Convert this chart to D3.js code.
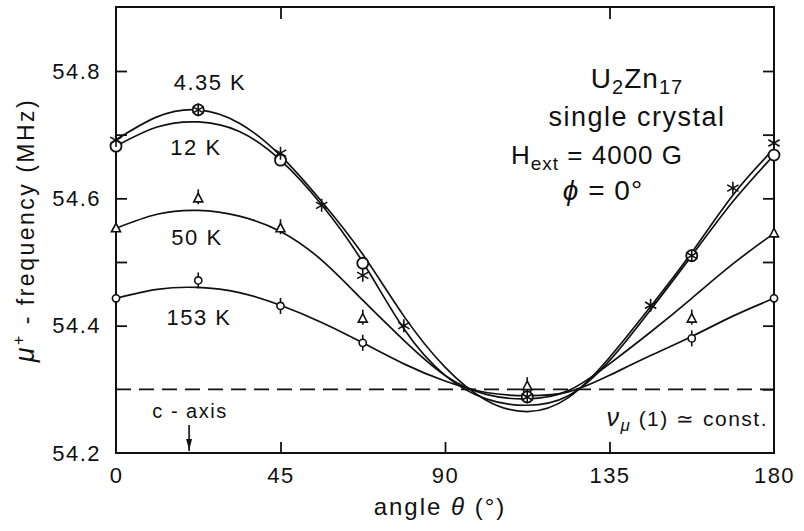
<!DOCTYPE html>
<html><head><meta charset="utf-8">
<script src="https://cdn.jsdelivr.net/npm/d3@7"></script>
<style>
body{margin:0;background:#fff}
text{font-family:"Liberation Sans",Arial,sans-serif;fill:#111}
</style>
</head><body>
<svg id="c" width="804" height="531"></svg>
<script>
// ---- data ----
const curveAngles = [0, 11.25, 22.5, 33.75, 45, 56.25, 67.5, 78.75, 90, 101.25, 112.5, 123.75, 135, 146.25, 157.5, 168.75, 180];
const curve435 = [54.692, 54.728, 54.739, 54.718, 54.667, 54.595, 54.512, 54.415, 54.335, 54.283, 54.265, 54.287, 54.350, 54.430, 54.515, 54.605, 54.678];
const curve12  = [54.682, 54.712, 54.720, 54.705, 54.660, 54.590, 54.500, 54.395, 54.322, 54.285, 54.275, 54.290, 54.345, 54.425, 54.510, 54.595, 54.668];
const curve50  = [54.553, 54.575, 54.581, 54.572, 54.548, 54.503, 54.440, 54.377, 54.322, 54.292, 54.285, 54.298, 54.340, 54.390, 54.443, 54.497, 54.545];
const curve153 = [54.443, 54.457, 54.460, 54.452, 54.432, 54.405, 54.373, 54.340, 54.313, 54.295, 54.290, 54.296, 54.322, 54.353, 54.383, 54.415, 54.443];

const angles435 = [0, 22.5, 45, 56.25, 67.5, 78.75, 112.5, 146.25, 157.5, 168.75, 180];
const values435 = [54.691, 54.739, 54.671, 54.589, 54.479, 54.400, 54.288, 54.432, 54.510, 54.616, 54.687];
const angles12 = [0, 22.5, 45, 67.5, 112.5, 157.5, 180];
const values12 = [54.682, 54.739, 54.660, 54.498, 54.288, 54.510, 54.668];
const angles50 = [0, 22.5, 45, 67.5, 112.5, 157.5, 180];
const values50 = [54.553, 54.600, 54.553, 54.411, 54.305, 54.411, 54.545];
const angles153 = [0, 22.5, 45, 67.5, 112.5, 157.5, 180];
const values153 = [54.443, 54.471, 54.431, 54.373, 54.298, 54.380, 54.443];

const xTicks = [0, 45, 90, 135, 180];
const yTicks = [54.2, 54.4, 54.6, 54.8];
const yMinor = [54.5, 54.7];
const constLevel = 54.3;
const cAxisAngle = 20;

// ---- layout ----
const svg = d3.select("#c");
const L = 116, R = 774, T = 7, B = 453;
const x = d3.scaleLinear().domain([0, 180]).range([L, R]);
const y = d3.scaleLinear().domain([54.2, 54.8]).range([B, 71]);
const ink = "#111";
const FONT = "'Liberation Sans',Arial,sans-serif";

// frame
svg.append("rect").attr("x", L).attr("y", T).attr("width", R - L).attr("height", B - T)
  .attr("fill", "none").attr("stroke", ink).attr("stroke-width", 2);

// axes via d3 (ticks inward)
const gB = svg.append("g").attr("transform", `translate(0,${B})`)
  .call(d3.axisBottom(x).tickValues(xTicks).tickSize(-11).tickPadding(14).tickFormat(d3.format("d")));
const gL = svg.append("g").attr("transform", `translate(${L},0)`)
  .call(d3.axisLeft(y).tickValues(yTicks).tickSize(-11).tickPadding(15).tickFormat(d3.format(".1f")));
[gB, gL].forEach(g => {
  g.select(".domain").remove();
  g.selectAll(".tick line").attr("stroke", ink).attr("stroke-width", 1.8);
  g.selectAll(".tick text").attr("fill", ink).style("font-size", "22px")
    .style("font-family", FONT).style("letter-spacing", "1.5px");
});
gB.selectAll(".tick").filter(d => d === 0 || d === 180).select("line").remove();
gL.selectAll(".tick").filter(d => d === 54.2).select("line").remove();
svg.append("g").attr("transform", `translate(${L},0)`)
  .call(d3.axisLeft(y).tickValues(yMinor).tickSize(-11).tickFormat(""))
  .call(g => { g.select(".domain").remove(); g.selectAll("line").attr("stroke", ink).attr("stroke-width", 1.8); });
// right and top ticks
svg.append("g").attr("transform", `translate(${R},0)`)
  .call(d3.axisRight(y).tickValues([54.3, 54.4, 54.5, 54.6, 54.7, 54.8]).tickSize(-11).tickFormat(""))
  .call(g => { g.select(".domain").remove(); g.selectAll("line").attr("stroke", ink).attr("stroke-width", 1.8); });
svg.append("g").attr("transform", `translate(0,${T})`)
  .call(d3.axisTop(x).tickValues([45, 135]).tickSize(-12).tickFormat(""))
  .call(g => { g.select(".domain").remove(); g.selectAll("line").attr("stroke", ink).attr("stroke-width", 1.8); });

// dashed constant line
svg.append("line").attr("x1", x(0)).attr("x2", x(180)).attr("y1", y(constLevel)).attr("y2", y(constLevel))
  .attr("stroke", ink).attr("stroke-width", 1.8).attr("stroke-dasharray", "15,8");

// curves
const line = d3.line().x(d => x(d[0])).y(d => y(d[1])).curve(d3.curveNatural);
[curve435, curve12, curve50, curve153].forEach(c => {
  svg.append("path").attr("d", line(curveAngles.map((a, i) => [a, c[i]])))
    .attr("fill", "none").attr("stroke", ink).attr("stroke-width", 1.7);
});

// markers
const g153 = svg.append("g");
angles153.forEach((a, i) => {
  const cx = x(a), cy = y(values153[i]);
  g153.append("line").attr("x1", cx).attr("x2", cx).attr("y1", cy - 8).attr("y2", cy + 8).attr("stroke", ink).attr("stroke-width", 1.6);
  g153.append("circle").attr("cx", cx).attr("cy", cy).attr("r", 3.6).attr("fill", "#fff").attr("stroke", ink).attr("stroke-width", 1.6);
});
const g50 = svg.append("g");
angles50.forEach((a, i) => {
  const cx = x(a), cy = y(values50[i]);
  g50.append("line").attr("x1", cx).attr("x2", cx).attr("y1", cy - 9).attr("y2", cy + 6).attr("stroke", ink).attr("stroke-width", 1.6);
  g50.append("path").attr("d", `M${cx},${cy - 5}L${cx + 4.5},${cy + 3.5}L${cx - 4.5},${cy + 3.5}Z`)
    .attr("fill", "#fff").attr("stroke", ink).attr("stroke-width", 1.6);
});
const g12 = svg.append("g");
angles12.forEach((a, i) => {
  g12.append("circle").attr("cx", x(a)).attr("cy", y(values12[i])).attr("r", 5.5)
    .attr("fill", "#fff").attr("stroke", ink).attr("stroke-width", 1.8);
});
const g435 = svg.append("g");
angles435.forEach((a, i) => {
  const cx = x(a), cy = y(values435[i]), s = 6.5, dx = s * 0.87, dy = s * 0.5;
  g435.append("path").attr("d",
    `M${cx},${cy - s}L${cx},${cy + s}M${cx - dx},${cy - dy}L${cx + dx},${cy + dy}M${cx - dx},${cy + dy}L${cx + dx},${cy - dy}`)
    .attr("stroke", ink).attr("stroke-width", 1.6).attr("fill", "none");
});

// labels
function label(t, px, py, size, anchor, ls) {
  return svg.append("text").attr("x", px).attr("y", py).attr("text-anchor", anchor || "middle")
    .style("font-size", size + "px").style("letter-spacing", (ls || 1.5) + "px").text(t);
}
label("4.35 K", 210, 90, 22);
label("12 K", 196, 155, 22);
label("50 K", 197, 245, 22);
label("153 K", 199, 325, 22);
label("c - axis", 190, 418, 20);
// c-axis arrow
svg.append("line").attr("x1", x(cAxisAngle)).attr("x2", x(cAxisAngle)).attr("y1", 425).attr("y2", B - 2)
  .attr("stroke", ink).attr("stroke-width", 1.6);
svg.append("path").attr("d", `M${x(cAxisAngle) - 3},${B - 14}L${x(cAxisAngle)},${B - 3}L${x(cAxisAngle) + 3},${B - 14}Z`).attr("fill", ink);

// title block
const t1 = svg.append("text").attr("x", 637).attr("y", 88).attr("text-anchor", "middle").style("font-size", "28px").style("letter-spacing", "1px");
t1.append("tspan").text("U");
t1.append("tspan").attr("dy", 6).style("font-size", "20px").text("2");
t1.append("tspan").attr("dy", -6).text("Zn");
t1.append("tspan").attr("dy", 6).style("font-size", "20px").text("17");
label("single crystal", 637, 126, 27);
const t3 = svg.append("text").attr("x", 597).attr("y", 164).attr("text-anchor", "middle").style("font-size", "26px").style("letter-spacing", "1px");
t3.append("tspan").text("H");
t3.append("tspan").attr("dy", 6).style("font-size", "19px").text("ext");
t3.append("tspan").attr("dy", -6).text(" = 4000 G");
const t4 = svg.append("text").attr("x", 603).attr("y", 200).attr("text-anchor", "middle").style("font-size", "28px").style("letter-spacing", "1px");
t4.append("tspan").style("font-style", "italic").text("ϕ");
t4.append("tspan").text(" = 0°");

const t5 = svg.append("text").attr("x", 768).attr("y", 426).attr("text-anchor", "end").style("font-size", "21px").style("letter-spacing", "1.5px");
t5.append("tspan").style("font-style", "italic").style("font-size", "25px").text("ν");
t5.append("tspan").attr("dy", 5).style("font-style", "italic").style("font-size", "17px").text("μ");
t5.append("tspan").attr("dy", -5).text(" (1) ≃ const.");

// axis titles
const xt = svg.append("text").attr("x", 440).attr("y", 515).attr("text-anchor", "middle").style("font-size", "24px").style("letter-spacing", "2px");
xt.append("tspan").text("angle ");
xt.append("tspan").style("font-style", "italic").text("θ");
xt.append("tspan").text(" (°)");
const yt = svg.append("text").attr("transform", "translate(34,230) rotate(-90)").attr("text-anchor", "middle").style("font-size", "23px").style("letter-spacing", "2.5px");
yt.append("tspan").style("font-style", "italic").style("font-size", "27px").text("μ");
yt.append("tspan").attr("dy", -10).style("font-size", "16px").text("+");
yt.append("tspan").attr("dy", 10).text(" - frequency (MHz)");
</script>
</body></html>
